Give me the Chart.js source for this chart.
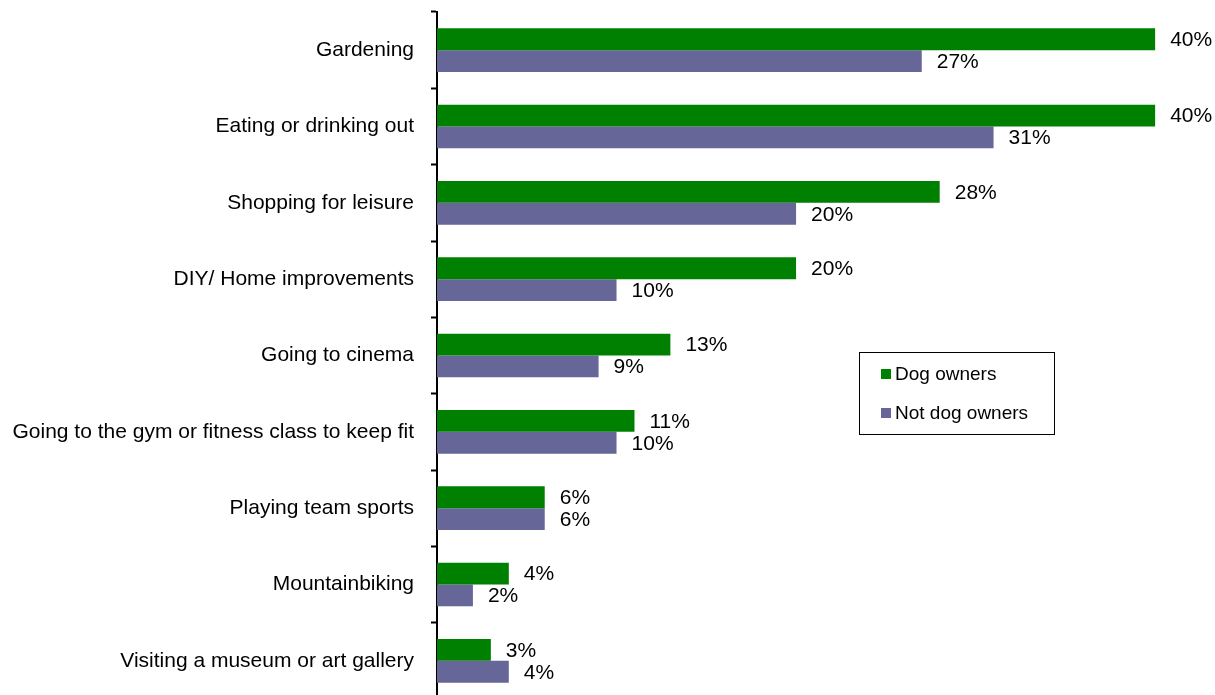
<!DOCTYPE html>
<html>
<head>
<meta charset="utf-8">
<script src="https://cdn.jsdelivr.net/npm/chart.js@4/dist/chart.umd.min.js"></script>
<style>
  html, body { margin: 0; padding: 0; background: #fff; overflow: hidden; }
  #wrap { position: relative; width: 1215px; height: 699px; }
</style>
</head>
<body>
<div id="wrap"><canvas id="chartCanvas"></canvas></div>
<script>
const activities = [
    'Gardening',
    'Eating or drinking out',
    'Shopping for leisure',
    'DIY/ Home improvements',
    'Going to cinema',
    'Going to the gym or fitness class to keep fit',
    'Playing team sports',
    'Mountainbiking',
    'Visiting a museum or art gallery'
];
const dogOwners = [40, 40, 28, 20, 13, 11, 6, 4, 3];
const notDogOwners = [27, 31, 20, 10, 9, 10, 6, 2, 4];

const FONT = 'Arial, "Liberation Sans", Helvetica, sans-serif';

// percentage text just past the end of each bar
const valueLabels = {
    id: 'valueLabels',
    afterDatasetsDraw(chart) {
        const ctx = chart.ctx;
        ctx.save();
        ctx.font = '21px ' + FONT;
        ctx.fillStyle = '#000';
        ctx.textAlign = 'left';
        ctx.textBaseline = 'middle';
        chart.data.datasets.forEach((ds, i) => {
            chart.getDatasetMeta(i).data.forEach((bar, j) => {
                ctx.fillText(ds.data[j] + '%', bar.x + 15, bar.y + 1);
            });
        });
        ctx.restore();
    }
};

// boxed legend sitting inside the plot
const boxLegend = {
    id: 'boxLegend',
    afterDraw(chart) {
        const ctx = chart.ctx;
        ctx.save();
        ctx.strokeStyle = '#000';
        ctx.lineWidth = 1;
        ctx.strokeRect(859.5, 352.5, 195, 82);
        ctx.font = '19px ' + FONT;
        ctx.textBaseline = 'middle';
        ctx.fillStyle = '#000';
        chart.data.datasets.forEach((ds, i) => {
            const y = 374 + i * 39;
            ctx.fillStyle = ds.backgroundColor;
            ctx.fillRect(881, y - 5, 10, 10);
            ctx.fillStyle = '#000';
            ctx.fillText(ds.label, 895, y + 1);
        });
        ctx.restore();
    }
};

const ctx = document.getElementById('chartCanvas').getContext('2d');
new Chart(ctx, {
    type: 'bar',
    data: {
        labels: activities,
        datasets: [
            {
                label: 'Dog owners',
                data: dogOwners,
                backgroundColor: '#008000',
                borderWidth: 0,
                categoryPercentage: 0.573,
                barPercentage: 1.0
            },
            {
                label: 'Not dog owners',
                data: notDogOwners,
                backgroundColor: '#666699',
                borderWidth: 0,
                categoryPercentage: 0.573,
                barPercentage: 1.0
            }
        ]
    },
    options: {
        indexAxis: 'y',
        responsive: true,
        maintainAspectRatio: false,
        animation: false,
        layout: { padding: { top: 12, right: 6, bottom: 0, left: 0 } },
        plugins: {
            legend: { display: false },
            tooltip: { enabled: false }
        },
        scales: {
            x: {
                display: false,
                min: 0,
                max: 43
            },
            y: {
                offset: true,
                border: { display: true, color: '#000', width: 2 },
                grid: {
                    offset: true,
                    drawOnChartArea: false,
                    drawTicks: true,
                    tickLength: 6,
                    tickWidth: 2,
                    tickColor: '#000'
                },
                ticks: {
                    color: '#000',
                    font: { family: FONT, size: 21 },
                    padding: 17
                },
                afterFit(scale) {
                    scale.width = 437;
                    scale.paddingTop = 0;
                    scale.paddingBottom = 0;
                }
            }
        }
    },
    plugins: [valueLabels, boxLegend]
});
</script>
</body>
</html>
